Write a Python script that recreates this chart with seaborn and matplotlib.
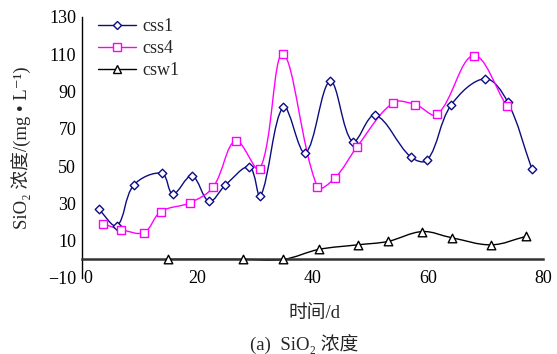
import numpy as np
import pandas as pd
import seaborn as sns
import matplotlib
matplotlib.use("Agg")
import matplotlib.pyplot as plt
from matplotlib.path import Path
from matplotlib.patches import PathPatch
from matplotlib.lines import Line2D
from matplotlib.transforms import ScaledTranslation

# Sampling days and SiO2 concentrations (mg/L)
css1_day = [2.8, 6.0, 8.9, 13.8, 15.7, 19.0, 22.0, 24.8, 29.0, 30.9, 34.9, 38.7,
            43.0, 46.9, 50.8, 57.0, 59.9, 64.0, 69.9, 73.8, 78.0]
css1_val = [27.0, 18.1, 39.8, 46.1, 35.0, 44.8, 31.1, 39.8, 49.6, 33.8, 81.8, 57.1,
            95.5, 63.1, 77.3, 54.9, 53.3, 82.7, 96.9, 84.5, 48.7]

css4_day = [3.6, 6.7, 10.7, 13.6, 18.7, 22.7, 26.6, 30.8, 34.8, 40.8, 43.9, 47.7,
            53.9, 57.8, 61.6, 67.9, 73.7]
css4_val = [19.0, 16.0, 14.4, 25.6, 30.4, 38.8, 63.7, 48.5, 110.1, 38.8, 43.9, 60.5,
            83.9, 83.0, 77.7, 109.3, 82.1]

csw1_day = [14.8, 27.8, 34.9, 41.0, 47.8, 53.0, 59.0, 64.1, 71.0, 77.0]
csw1_val = [0.0, 0.0, 0.0, 5.3, 7.8, 9.6, 14.9, 11.6, 7.8, 12.3]

x_ticks = [0, 20, 40, 60, 80]
y_ticks = [-10, 10, 30, 50, 70, 90, 110, 130]

# name, days, values, colour, marker, marker area (pt^2), legend marker size
series = [
    ("css1", css1_day, css1_val, "#0c0c82", "D", 19, 4.4),
    ("css4", css4_day, css4_val, "#ff00ff", "s", 34, 5.8),
    ("csw1", csw1_day, csw1_val, "#000000", "^", 38, 6.2),
]

FS = 13
FS_TITLE = 13.5

sns.set_style("white")
plt.rcParams["font.family"] = ["Liberation Serif", "Noto Sans CJK SC", "DejaVu Sans"]
plt.rcParams["axes.unicode_minus"] = True

fig = plt.figure(figsize=(5.57, 3.54), dpi=100)
ax = fig.add_axes([0.148, 0.2147, 0.8273, 0.7373])
ax.set_xlim(0, 80)
ax.set_ylim(-10, 130)


def smooth_path(axis, xs, ys, t=0.36):
    """Smooth cubic Bezier curve through the points, built in display space."""
    pts = axis.transData.transform(np.column_stack([xs, ys]).astype(float))
    n = len(pts)
    verts = [pts[0]]
    codes = [Path.MOVETO]
    for i in range(n - 1):
        p0 = pts[i - 1] if i > 0 else pts[i]
        p1 = pts[i]
        p2 = pts[i + 1]
        p3 = pts[i + 2] if i + 2 < n else pts[i + 1]
        d01 = np.hypot(*(p1 - p0))
        d12 = np.hypot(*(p2 - p1))
        d23 = np.hypot(*(p3 - p2))
        c1 = p1 + (p2 - p0) * t * d12 / max(d01 + d12, 1e-9)
        c2 = p2 - (p3 - p1) * t * d12 / max(d12 + d23, 1e-9)
        verts += [c1, c2, p2]
        codes += [Path.CURVE4] * 3
    data_verts = axis.transData.inverted().transform(np.array(verts))
    return Path(data_verts, codes)


handles = []
for name, xs, ys, color, marker, area, ms in series:
    ax.add_patch(PathPatch(smooth_path(ax, xs, ys), facecolor="none",
                           edgecolor=color, lw=1.0, zorder=2))
    df = pd.DataFrame({"day": xs, "val": ys})
    sns.scatterplot(data=df, x="day", y="val", marker=marker, s=area,
                    facecolor="white", edgecolor=color, linewidth=1.0,
                    zorder=3, ax=ax, legend=False)
    handles.append(Line2D([0], [0], color=color, lw=1.0, marker=marker,
                          markersize=ms, markerfacecolor="white",
                          markeredgecolor=color, markeredgewidth=1.0, label=name))

ax.set_xticks(x_ticks)
ax.set_yticks(y_ticks)

for side in ("top", "right"):
    ax.spines[side].set_visible(False)
ax.spines["bottom"].set_position(("data", 0))
ax.spines["bottom"].set_color("#333333")
ax.spines["bottom"].set_linewidth(1.8)
ax.spines["left"].set_color("black")
ax.spines["left"].set_linewidth(1.0)

ax.tick_params(axis="x", direction="in", length=5, width=1.0, pad=8,
               labelsize=FS, colors="black")
ax.tick_params(axis="y", direction="in", length=5, width=1.0, pad=4.5,
               labelsize=FS, colors="black")

# the "0" label sits just right of the vertical axis
zero_label = ax.get_xticklabels()[0]
zero_label.set_transform(zero_label.get_transform()
                         + ScaledTranslation(5 / 100, 0, fig.dpi_scale_trans))

ax.set_xlabel("时间/d", fontsize=FS_TITLE)
ax.xaxis.set_label_coords(0.503, -0.105)
ax.set_ylabel("SiO₂ 浓度/(mg • L⁻¹)", fontsize=FS_TITLE)
ax.yaxis.set_label_coords(-0.11, 0.5)

ax.legend(handles=handles, loc="upper left", bbox_to_anchor=(0.0, 1.055),
          frameon=False, fontsize=FS, handlelength=2.1, handletextpad=0.35,
          labelspacing=0.28, borderaxespad=0.45)

fig.text(304 / 557, 1 - 345 / 354, "(a)  SiO₂ 浓度", fontsize=FS_TITLE,
         ha="center", va="center")

fig.savefig("out.png", dpi=100)
